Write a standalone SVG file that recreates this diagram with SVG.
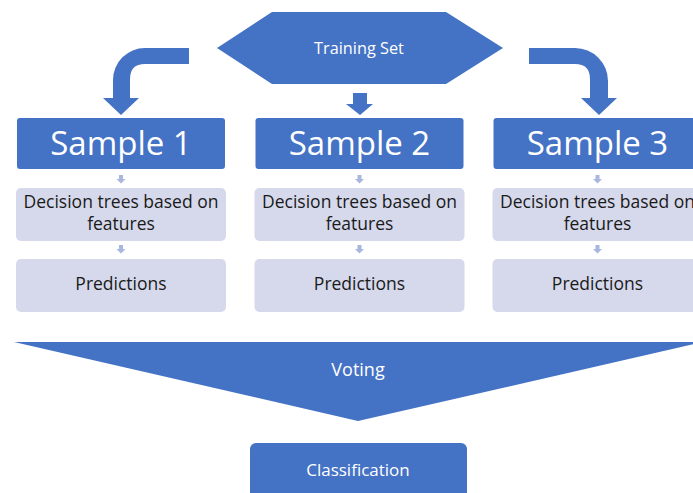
<svg xmlns="http://www.w3.org/2000/svg" width="693" height="493" viewBox="0 0 693 493">
<style>
.blue{fill:#4472C4}
.light{fill:#D5D9EB}
.sarrow{fill:#A9B7DE}
text{font-family:"Open Sans","Liberation Sans",sans-serif;text-anchor:middle}
.wt{fill:#FFFFFF}
.big{font-size:33px}
.mid{font-size:17.5px;fill:#1a1a1a}
.sm{font-size:16.3px}
</style>
<defs>
<path id="sa" d="M-2,0 H2 V4 H4.5 L0,8.5 L-4.5,4 H-2 Z"/>
</defs>
<rect width="693" height="493" fill="#FFFFFF"/>
<g id="training-set">
<polygon class="blue" points="217,48 272,12 446,12 503,48 446,84 272,84"/>
<text class="wt sm" x="359" y="54">Training Set</text>
</g>
<g id="connectors">
<path class="blue" d="M189,48 L145,48 A32,32 0 0 0 113,80 L113,98 L103,98 L121,115 L139,98 L130,98 L130,79 Q130,64 145,64 L189,64 Z"/>
<path class="blue" d="M353,93 H367 V104 H373 L360,115 L346,104 H353 Z"/>
<path class="blue" d="M529,48 L575,48 A33,33 0 0 1 608,81 L608,98 L617,98 L599,115 L581,98 L590,98 L590,79 Q590,64 575,64 L529,64 Z"/>
<use class="sarrow" href="#sa" x="121" y="175"/>
<use class="sarrow" href="#sa" x="121" y="245"/>
<use class="sarrow" href="#sa" x="359.5" y="175"/>
<use class="sarrow" href="#sa" x="359.5" y="245"/>
<use class="sarrow" href="#sa" x="597.5" y="175"/>
<use class="sarrow" href="#sa" x="597.5" y="245"/>
</g>
<g id="sample-1">
<rect class="blue" x="17" y="118" width="208" height="51" rx="3"/>
<text class="wt big" x="121" y="155">Sample 1</text>
</g>
<g id="sample-2">
<rect class="blue" x="255.5" y="118" width="208" height="51" rx="3"/>
<text class="wt big" x="359.5" y="155">Sample 2</text>
</g>
<g id="sample-3">
<rect class="blue" x="493.5" y="118" width="208" height="51" rx="3"/>
<text class="wt big" x="597.5" y="155">Sample 3</text>
</g>
<g id="trees-1">
<rect class="light" x="16" y="188" width="210" height="53" rx="5"/>
<text class="mid" x="121" y="208">Decision trees based on</text>
<text class="mid" x="121" y="230">features</text>
</g>
<g id="trees-2">
<rect class="light" x="254.5" y="188" width="210" height="53" rx="5"/>
<text class="mid" x="359.5" y="208">Decision trees based on</text>
<text class="mid" x="359.5" y="230">features</text>
</g>
<g id="trees-3">
<rect class="light" x="492.5" y="188" width="210" height="53" rx="5"/>
<text class="mid" x="597.5" y="208">Decision trees based on</text>
<text class="mid" x="597.5" y="230">features</text>
</g>
<g id="pred-1">
<rect class="light" x="16" y="259" width="210" height="53" rx="5"/>
<text class="mid" x="121" y="290">Predictions</text>
</g>
<g id="pred-2">
<rect class="light" x="254.5" y="259" width="210" height="53" rx="5"/>
<text class="mid" x="359.5" y="290">Predictions</text>
</g>
<g id="pred-3">
<rect class="light" x="492.5" y="259" width="210" height="53" rx="5"/>
<text class="mid" x="597.5" y="290">Predictions</text>
</g>
<g id="voting">
<polygon class="blue" points="14,342 703,342 358,421"/>
<text class="wt" x="358" y="376" style="font-size:18px">Voting</text>
</g>
<g id="classification">
<rect class="blue" x="250" y="443" width="217" height="56" rx="6"/>
<text class="wt" x="358" y="476" style="font-size:17px">Classification</text>
</g>
</svg>
